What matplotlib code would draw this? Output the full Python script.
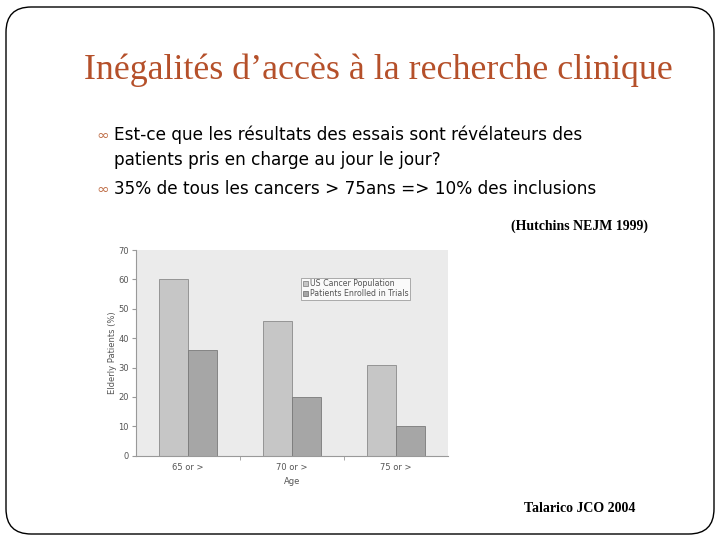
import matplotlib
matplotlib.use("Agg")
import matplotlib.pyplot as plt
from matplotlib.patches import FancyBboxPatch
import numpy as np

categories = ["65 or >", "70 or >", "75 or >"]
us_population = [60, 46, 31]
enrolled_trials = [36, 20, 10]
series_names = ["US Cancer Population", "Patients Enrolled in Trials"]
y_ticks = [0, 10, 20, 30, 40, 50, 60, 70]

title = "Inégalités d\u2019accès à la recherche clinique"
bullets = ["Est-ce que les résultats des essais sont révélateurs des\npatients pris en charge au jour le jour?",
           "35% de tous les cancers > 75ans => 10% des inclusions"]

fig = plt.figure(figsize=(7.2, 5.4), dpi=100)
fig.patch.set_facecolor("white")

# slide border
border = FancyBboxPatch((6/720, 6/540), 708/720, 527/540,
                        boxstyle="round,pad=0,rounding_size=0.035",
                        transform=fig.transFigure, fill=False,
                        edgecolor="black", linewidth=1.0, mutation_aspect=720/540)
fig.patches.append(border)

fig.text(378/720, 1 - 70/540, title, ha="center", va="center",
         family="Liberation Serif", fontsize=25.8, color="#b5502a")

bullet_color = "#c0704a"
fig.text(96/720, 1 - 135/540, "\u221e", ha="left", va="center", fontsize=11, color=bullet_color)
fig.text(114/720, 1 - 125/540, bullets[0], ha="left", va="top", fontsize=12.2,
         family="DejaVu Sans", color="black", linespacing=1.55)
fig.text(96/720, 1 - 189/540, "\u221e", ha="left", va="center", fontsize=11, color=bullet_color)
fig.text(114/720, 1 - 189/540, bullets[1], ha="left", va="center", fontsize=12.2,
         family="DejaVu Sans", color="black")

fig.text(648/720, 1 - 226/540, "(Hutchins NEJM 1999)", ha="right", va="center",
         family="Liberation Serif", fontsize=10, fontweight="bold", color="black")
fig.text(580/720, 1 - 509/540, "Talarico JCO 2004", ha="center", va="center",
         family="Liberation Serif", fontsize=10, fontweight="bold", color="black")

ax = fig.add_axes([136/720, 1 - 455.7/540, 312/720, 205.7/540])
ax.set_facecolor("#ebebeb")
x = np.arange(len(categories))
w = 0.283
ax.bar(x - w/2, us_population, width=w, color="#c6c6c6", edgecolor="#8a8a8a",
       linewidth=0.6, label=series_names[0])
ax.bar(x + w/2, enrolled_trials, width=w, color="#a6a6a6", edgecolor="#7a7a7a",
       linewidth=0.6, label=series_names[1])
ax.set_xlim(-0.5, 2.5)
ax.set_ylim(0, 70)
ax.set_yticks(y_ticks)
ax.set_xticks(x)
ax.set_xticklabels(categories)
ax.set_xticks([0.5, 1.5], minor=True)
ax.tick_params(axis="x", which="major", length=0, labelsize=6, colors="#555555", pad=5)
ax.tick_params(axis="x", which="minor", length=3, color="#999999")
ax.tick_params(axis="y", length=3, labelsize=6, colors="#555555", pad=2, color="#999999")
for s in ["top", "right"]:
    ax.spines[s].set_visible(False)
for s in ["left", "bottom"]:
    ax.spines[s].set_color("#999999")
    ax.spines[s].set_linewidth(0.8)
ax.set_ylabel("Elderly Patients (%)", fontsize=6, color="#555555", labelpad=1)
ax.set_xlabel("Age", fontsize=6, color="#555555", labelpad=4)
leg = ax.legend(loc="upper left", bbox_to_anchor=(0.53, 0.865), fontsize=5.7,
                frameon=True, fancybox=False, edgecolor="#888888", facecolor="white",
                handlelength=0.6, handleheight=0.6, handletextpad=0.3,
                borderpad=0.2, labelspacing=0.1, borderaxespad=0)
leg.get_frame().set_linewidth(0.6)
for t in leg.get_texts():
    t.set_color("#555555")

fig.savefig("out.png", dpi=100)
